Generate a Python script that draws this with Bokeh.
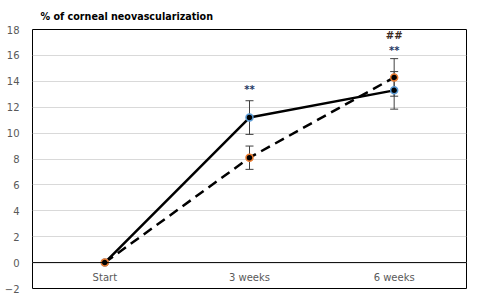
from bokeh.plotting import figure
from bokeh.models import FactorRange, Range1d, Whisker, ColumnDataSource, Span, FixedTicker
from bokeh.embed import file_html
from bokeh.resources import INLINE
from bokeh.core.properties import value

categories = ["Start", "3 weeks", "6 weeks"]
solid_values = [0.0, 11.2, 13.3]
solid_errors = [0.0, 1.3, 1.45]
dashed_values = [0.0, 8.1, 14.3]
dashed_errors = [0.0, 0.9, 1.45]
annot_cats = ["3 weeks", "6 weeks", "6 weeks"]
annot_y = [13.4, 16.4, 17.5]
annot_text = ["**", "**", "##"]
annot_colors = ["#1F3864", "#1F3864", "#3B2A1E"]
y_ticks = list(range(-2, 19, 2))
title_text = "% of corneal neovascularization"

p = figure(width=481, height=304, x_range=FactorRange(factors=categories, range_padding=0),
           y_range=Range1d(-2, 18), output_backend="svg", toolbar_location=None,
           min_border_left=32, min_border_right=15, min_border_top=29, min_border_bottom=16)
p.title.text = title_text
p.title.text_font = "DejaVu Sans"
p.title.text_font_size = "9.6px"
p.title.text_font_style = "bold"
p.title.text_color = "#000000"
p.title.offset = 8
p.title.standoff = 15

p.outline_line_color = "#000000"
p.outline_line_width = 1
p.xaxis.visible = False
p.xgrid.visible = False
p.ygrid.grid_line_color = "#D9D9D9"
p.ygrid.grid_line_width = 1
p.yaxis.ticker = FixedTicker(ticks=y_ticks)
p.yaxis.axis_line_color = None
p.yaxis.major_tick_line_color = None
p.yaxis.minor_tick_line_color = None
p.yaxis.major_label_text_font = "DejaVu Sans"
p.yaxis.major_label_text_font_size = "10px"
p.yaxis.major_label_text_color = "#595959"
p.yaxis.major_label_standoff = 7

p.add_layout(Span(location=0, dimension="width", line_color="#000000", line_width=1))

# category labels inside the frame
p.text(x=categories, y=[-1.15] * len(categories), text=categories,
       text_font=value("DejaVu Sans"), text_font_size="10px", text_color="#595959",
       text_align="center", text_baseline="middle")

def err_source(vals, errs):
    xs, lo, hi = [], [], []
    for c, v, e in zip(categories, vals, errs):
        if e > 0:
            xs.append(c); lo.append(v - e); hi.append(v + e)
    return ColumnDataSource(dict(x=xs, lower=lo, upper=hi))

for vals, errs in ((solid_values, solid_errors), (dashed_values, dashed_errors)):
    src = err_source(vals, errs)
    w = Whisker(base="x", lower="lower", upper="upper", source=src, line_color="#404040", line_width=1)
    w.upper_head.size = 8
    w.lower_head.size = 8
    w.upper_head.line_color = "#404040"
    w.lower_head.line_color = "#404040"
    p.add_layout(w)

p.line(categories, solid_values, line_color="#000000", line_width=2.5)
p.line(categories, dashed_values, line_color="#000000", line_width=2.5, line_dash="10 6")
p.scatter(categories, solid_values, size=7, fill_color="#000000", line_color="#5B9BD5", line_width=1.5)
p.scatter(categories, dashed_values, size=7, fill_color="#000000", line_color="#ED7D31", line_width=1.5)

p.text(x=annot_cats, y=annot_y, text=annot_text, text_color=annot_colors,
       text_font=value("DejaVu Sans"), text_font_size="10px", text_font_style="bold",
       text_align="center", text_baseline="middle")

open("out.html", "w").write(file_html(p, INLINE))
